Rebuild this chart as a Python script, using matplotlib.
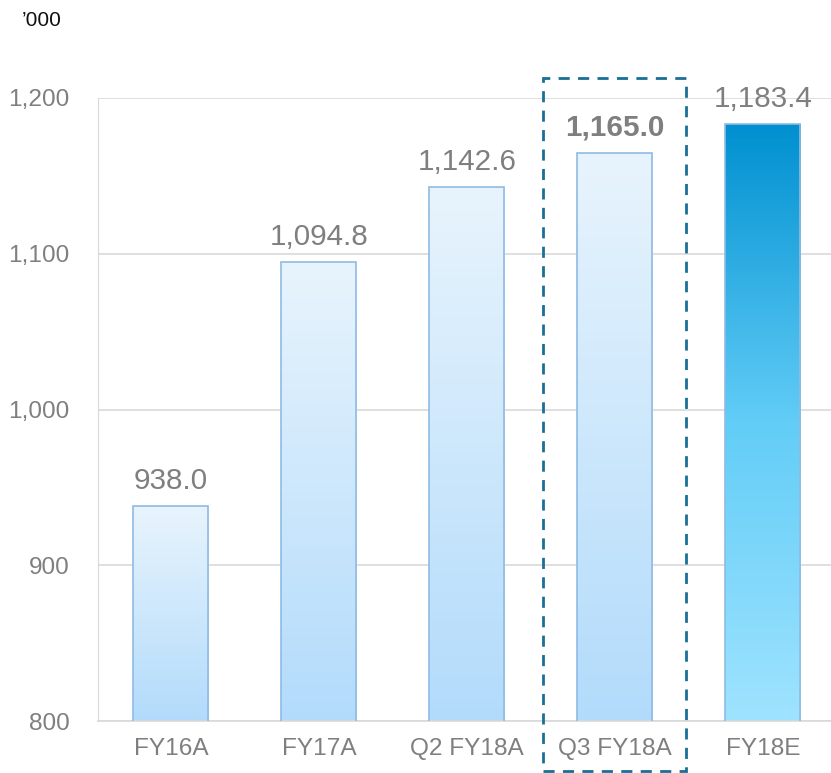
import numpy as np
import matplotlib
matplotlib.use("Agg")
import matplotlib.pyplot as plt
from matplotlib.colors import LinearSegmentedColormap
from matplotlib.patches import Rectangle

plt.rcParams["font.family"] = ["Liberation Sans", "DejaVu Sans"]

# data
categories = ["FY16A", "FY17A", "Q2 FY18A", "Q3 FY18A", "FY18E"]
values = [938.0, 1094.8, 1142.6, 1165.0, 1183.4]
labels = ["938.0", "1,094.8", "1,142.6", "1,165.0", "1,183.4"]
yticks = [800, 900, 1000, 1100, 1200]
highlight = 3   # dashed box
estimate = 4    # dark blue bar

GREY = "#7f7f7f"
light_cmap = LinearSegmentedColormap.from_list("light", ["#b2dbfb", "#e8f4fd"])
dark_cmap = LinearSegmentedColormap.from_list("dark", ["#9fe3ff", "#62cdf7", "#0090d0"])

fig = plt.figure(figsize=(8.31, 7.73), dpi=100)
ax = fig.add_axes([98 / 831, 52 / 773, 733 / 831, 623 / 773])

width = 0.507
x = np.arange(len(categories))
bars = ax.bar(x, values, width=width, color="none", edgecolor="#8fbbe3", linewidth=1.2, zorder=3)

# gradient fill clipped to each bar
grad = np.linspace(0, 1, 256).reshape(-1, 1)
for i, b in enumerate(bars):
    cmap = dark_cmap if i == estimate else light_cmap
    x0, w = b.get_x(), b.get_width()
    im = ax.imshow(grad, cmap=cmap, origin="lower", aspect="auto",
                   extent=[x0, x0 + w, 800, b.get_height()], zorder=2)
    im.set_clip_path(b)

for i, (v, lab) in enumerate(zip(values, labels)):
    ax.annotate(lab, (i, v), xytext=(0, 8), textcoords="offset points",
                ha="center", va="bottom", fontsize=21.3, color=GREY,
                fontweight="bold" if i == highlight else "normal")

# dashed highlight box
ax.add_patch(Rectangle((2.513, 768), 0.966, 1212.8 - 768, fill=False,
                       edgecolor="#1a6f97", linewidth=2, linestyle=(0, (4, 3)),
                       clip_on=False, zorder=5))

ax.set_xlim(-0.493, 4.46)
ax.set_ylim(800, 1200)
ax.set_yticks(yticks)
ax.set_yticklabels([f"{t:,}" for t in yticks])
ax.set_xticks(x)
ax.set_xticklabels(categories)
ax.tick_params(length=0, labelsize=17.6, colors=GREY)
ax.tick_params(axis="x", pad=12)
ax.tick_params(axis="y", pad=20.5)
ax.grid(axis="y", color="#d9d9d9", linewidth=1.2, zorder=0)
for s in ["top", "right"]:
    ax.spines[s].set_visible(False)
ax.spines["left"].set_color("#d9d9d9")
ax.spines["bottom"].set_color("#d9d9d9")
ax.spines["bottom"].set_linewidth(1.2)

fig.text(22 / 831, 1 - 20 / 773, "\u2019000", fontsize=15, color="#111111", va="center", ha="left")

fig.savefig("out.png", dpi=100)
